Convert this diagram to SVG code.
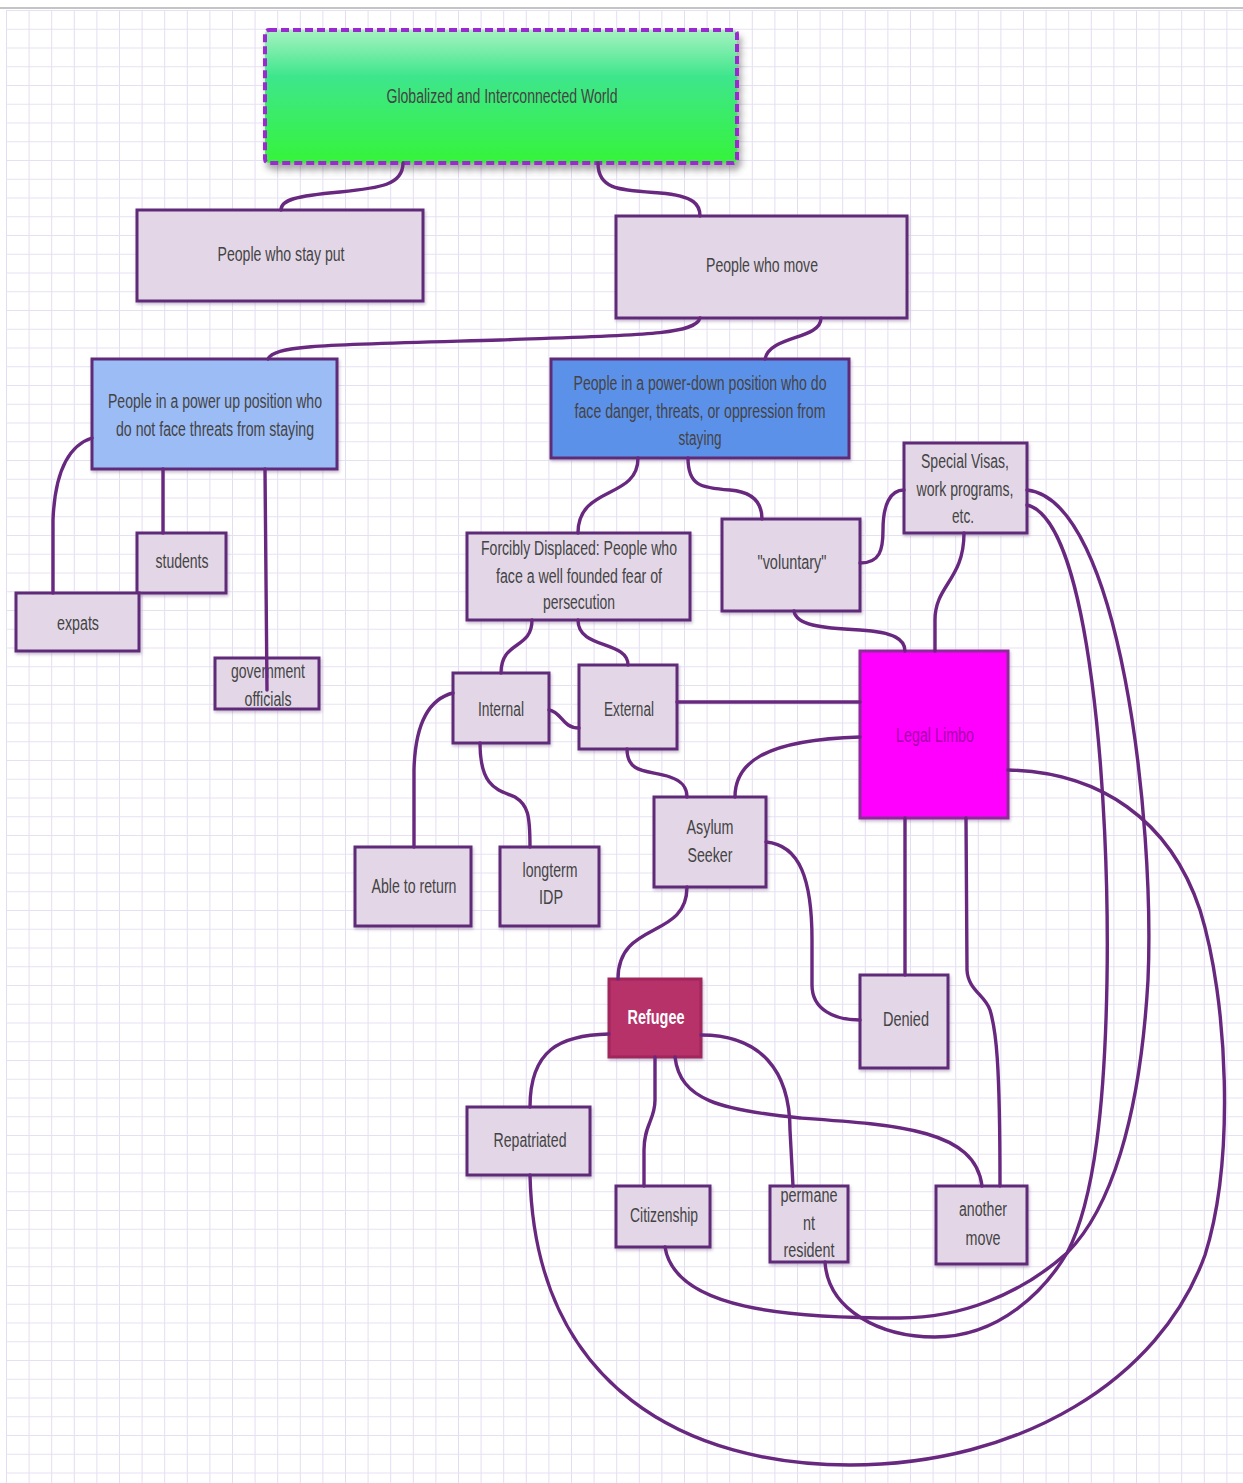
<svg xmlns="http://www.w3.org/2000/svg" width="1243" height="1483" viewBox="0 0 1243 1483">
<defs>
<pattern id="gv" x="6" y="0" width="22.6" height="1483" patternUnits="userSpaceOnUse"><rect x="0" y="0" width="1" height="1483" fill="#e3ddf1"/></pattern>
<pattern id="gh" x="0" y="10" width="1243" height="18.75" patternUnits="userSpaceOnUse"><rect x="0" y="0" width="1243" height="1" fill="#e6e1f2"/></pattern>
<linearGradient id="green" x1="0" y1="0" x2="0" y2="1">
<stop offset="0" stop-color="#a6f2c0"/>
<stop offset="0.35" stop-color="#3ee68c"/>
<stop offset="1" stop-color="#35f43a"/>
</linearGradient>
<filter id="sh" x="-10%" y="-10%" width="130%" height="140%">
<feDropShadow dx="3" dy="6" stdDeviation="3" flood-color="#444" flood-opacity="0.45"/>
</filter>
<filter id="sh2" x="-10%" y="-10%" width="130%" height="130%">
<feDropShadow dx="1" dy="2" stdDeviation="1.5" flood-color="#8a6a9a" flood-opacity="0.45"/>
</filter>
</defs>
<style>
.n{fill:#e3d7e7;stroke:#5f2a78;stroke-width:3;filter:url(#sh2)}
.t{font-family:"Liberation Sans",Arial,sans-serif;font-size:20px;fill:#444444;text-anchor:middle;dominant-baseline:central}
.c{fill:none;stroke:#68287f;stroke-width:3.4;stroke-linecap:round}
</style>
<rect x="0" y="0" width="1243" height="1483" fill="#ffffff"/>
<rect x="6" y="10" width="1237" height="1473" fill="url(#gv)"/>
<rect x="6" y="10" width="1237" height="1473" fill="url(#gh)"/>
<rect x="0" y="7" width="1243" height="2" fill="#c4c4c4"/>

<g id="node-top">
<rect x="265" y="30" width="472" height="133" rx="4" fill="url(#green)" stroke="#9a2ccf" stroke-width="4" stroke-dasharray="8 4" filter="url(#sh)"/>
<text class="t" x="502" y="96" textLength="231" lengthAdjust="spacingAndGlyphs">Globalized and Interconnected World</text>
</g>
<g id="node-stay">
<rect class="n" x="137" y="210" width="286" height="91"/>
<text class="t" x="281" y="254" textLength="127" lengthAdjust="spacingAndGlyphs">People who stay put</text>
</g>
<g id="node-move">
<rect class="n" x="616" y="216" width="291" height="102"/>
<text class="t" x="762" y="265" textLength="112" lengthAdjust="spacingAndGlyphs">People who move</text>
</g>
<g id="node-powerup">
<rect class="n" x="92" y="359" width="245" height="110" style="fill:#9cbcf6"/>
<text class="t" x="215" y="401" textLength="214" lengthAdjust="spacingAndGlyphs">People in a power up position who</text>
<text class="t" x="215" y="429" textLength="198" lengthAdjust="spacingAndGlyphs">do not face threats from staying</text>
</g>
<g id="node-powerdown">
<rect class="n" x="551" y="359" width="298" height="99" style="fill:#5c91ea"/>
<text class="t" x="700" y="383" textLength="253" lengthAdjust="spacingAndGlyphs">People in a power-down position who do</text>
<text class="t" x="700" y="411" textLength="251" lengthAdjust="spacingAndGlyphs">face danger, threats, or oppression from</text>
<text class="t" x="700" y="438" textLength="43" lengthAdjust="spacingAndGlyphs">staying</text>
</g>
<g id="node-students">
<rect class="n" x="137" y="533" width="89" height="60"/>
<text class="t" x="182" y="561" textLength="53" lengthAdjust="spacingAndGlyphs">students</text>
</g>
<g id="node-expats">
<rect class="n" x="16" y="593" width="123" height="58"/>
<text class="t" x="78" y="623" textLength="42" lengthAdjust="spacingAndGlyphs">expats</text>
</g>
<g id="node-government">
<rect class="n" x="215" y="658" width="104" height="51"/>
<text class="t" x="268" y="671" textLength="74" lengthAdjust="spacingAndGlyphs">government</text>
<text class="t" x="268" y="699" textLength="47" lengthAdjust="spacingAndGlyphs">officials</text>
</g>
<g id="node-forcibly">
<rect class="n" x="467" y="533" width="223" height="87"/>
<text class="t" x="579" y="548" textLength="196" lengthAdjust="spacingAndGlyphs">Forcibly Displaced: People who</text>
<text class="t" x="579" y="576" textLength="166" lengthAdjust="spacingAndGlyphs">face a well founded fear of</text>
<text class="t" x="579" y="602" textLength="72" lengthAdjust="spacingAndGlyphs">persecution</text>
</g>
<g id="node-voluntary">
<rect class="n" x="722" y="519" width="138" height="92"/>
<text class="t" x="792" y="562" textLength="69" lengthAdjust="spacingAndGlyphs">"voluntary"</text>
</g>
<g id="node-visas">
<rect class="n" x="904" y="443" width="123" height="90"/>
<text class="t" x="965" y="461" textLength="88" lengthAdjust="spacingAndGlyphs">Special Visas,</text>
<text class="t" x="965" y="489" textLength="97" lengthAdjust="spacingAndGlyphs">work programs,</text>
<text class="t" x="963" y="516" textLength="22" lengthAdjust="spacingAndGlyphs">etc.</text>
</g>
<g id="node-internal">
<rect class="n" x="453" y="673" width="96" height="70"/>
<text class="t" x="501" y="709" textLength="46" lengthAdjust="spacingAndGlyphs">Internal</text>
</g>
<g id="node-external">
<rect class="n" x="579" y="665" width="98" height="84"/>
<text class="t" x="629" y="709" textLength="50" lengthAdjust="spacingAndGlyphs">External</text>
</g>
<g id="node-limbo">
<rect class="n" x="860" y="651" width="148" height="167" style="fill:#ff00ff;stroke:#8e2a9c"/>
<text class="t" x="935" y="735" textLength="78" lengthAdjust="spacingAndGlyphs" style="fill:#a800ac">Legal Limbo</text>
</g>
<g id="node-able">
<rect class="n" x="355" y="847" width="116" height="79"/>
<text class="t" x="414" y="886" textLength="85" lengthAdjust="spacingAndGlyphs">Able to return</text>
</g>
<g id="node-idp">
<rect class="n" x="500" y="847" width="99" height="79"/>
<text class="t" x="550" y="870" textLength="55" lengthAdjust="spacingAndGlyphs">longterm</text>
<text class="t" x="551" y="897" textLength="24" lengthAdjust="spacingAndGlyphs">IDP</text>
</g>
<g id="node-asylum">
<rect class="n" x="654" y="797" width="112" height="90"/>
<text class="t" x="710" y="827" textLength="47" lengthAdjust="spacingAndGlyphs">Asylum</text>
<text class="t" x="710" y="855" textLength="45" lengthAdjust="spacingAndGlyphs">Seeker</text>
</g>
<g id="node-refugee">
<rect class="n" x="609" y="979" width="92" height="78" style="fill:#b8306b;stroke:#a0285c"/>
<text class="t" x="656" y="1017" textLength="57" lengthAdjust="spacingAndGlyphs" style="fill:#ffffff;font-weight:bold">Refugee</text>
</g>
<g id="node-denied">
<rect class="n" x="860" y="975" width="88" height="93"/>
<text class="t" x="906" y="1019" textLength="46" lengthAdjust="spacingAndGlyphs">Denied</text>
</g>
<g id="node-repatriated">
<rect class="n" x="467" y="1107" width="123" height="68"/>
<text class="t" x="530" y="1140" textLength="73" lengthAdjust="spacingAndGlyphs">Repatriated</text>
</g>
<g id="node-citizenship">
<rect class="n" x="616" y="1186" width="94" height="61"/>
<text class="t" x="664" y="1215" textLength="68" lengthAdjust="spacingAndGlyphs">Citizenship</text>
</g>
<g id="node-resident">
<rect class="n" x="770" y="1186" width="78" height="76"/>
<text class="t" x="809" y="1195" textLength="57" lengthAdjust="spacingAndGlyphs">permane</text>
<text class="t" x="809" y="1223" textLength="12" lengthAdjust="spacingAndGlyphs">nt</text>
<text class="t" x="809" y="1250" textLength="51" lengthAdjust="spacingAndGlyphs">resident</text>
</g>
<g id="node-another">
<rect class="n" x="936" y="1186" width="91" height="78"/>
<text class="t" x="983" y="1209" textLength="48" lengthAdjust="spacingAndGlyphs">another</text>
<text class="t" x="983" y="1238" textLength="35" lengthAdjust="spacingAndGlyphs">move</text>
</g>

<g id="connectors">
<path class="c" d="M403,163 C403,185 380,188 340,192 C295,196 281,200 281,210"/>
<path class="c" d="M598,163 C598,190 620,190 660,193 C695,196 700,205 700,216"/>
<path class="c" d="M700,318 C695,335 640,335 500,340 C320,345 275,345 268,359"/>
<path class="c" d="M821,318 C821,340 770,335 765,359"/>
<path class="c" d="M92,438 C70,445 55,470 53,520 L53,593"/>
<path class="c" d="M163,469 L163,533"/>
<path class="c" d="M265,469 L267,690"/>
<path class="c" d="M638,458 C638,500 578,485 578,533"/>
<path class="c" d="M688,458 C688,485 700,488 730,490 C755,492 762,505 762,519"/>
<path class="c" d="M860,563 C880,563 883,550 883,530 C883,505 890,490 904,490"/>
<path class="c" d="M794,611 C796,625 820,628 860,630 C895,632 905,640 905,651"/>
<path class="c" d="M964,533 C964,580 935,585 935,620 L935,651"/>
<path class="c" d="M532,620 C532,650 501,640 501,673"/>
<path class="c" d="M578,620 C578,650 628,640 628,665"/>
<path class="c" d="M549,710 C562,712 562,728 579,728"/>
<path class="c" d="M677,702 L860,702"/>
<path class="c" d="M453,693 C425,700 415,730 414,770 L414,847"/>
<path class="c" d="M480,743 C480,790 500,790 515,797 C528,805 530,815 530,847"/>
<path class="c" d="M627,749 C627,775 650,770 670,777 C685,782 687,790 687,797"/>
<path class="c" d="M735,797 C735,765 760,740 860,737"/>
<path class="c" d="M766,842 C800,845 812,880 812,940 L812,985 C812,1010 835,1020 860,1020"/>
<path class="c" d="M905,818 L905,975"/>
<path class="c" d="M966,818 L967,970 C968,990 985,995 990,1010 C996,1030 1000,1060 1000,1186"/>
<path class="c" d="M687,887 C687,940 618,920 618,979"/>
<path class="c" d="M609,1034 C560,1035 530,1050 530,1107"/>
<path class="c" d="M655,1057 L655,1100 C655,1120 644,1125 644,1150 L644,1186"/>
<path class="c" d="M701,1035 C760,1035 790,1070 790,1130 L793,1186"/>
<path class="c" d="M675,1057 C680,1100 720,1110 800,1118 C900,1125 975,1130 982,1186"/>
<path class="c" d="M665,1247 C675,1310 790,1318 900,1318 C960,1318 1020,1295 1067,1253 C1110,1210 1140,1120 1148,980 C1155,820 1120,500 1027,490"/>
<path class="c" d="M825,1262 C828,1310 880,1337 935,1337 C1000,1337 1045,1290 1067,1253 C1095,1200 1105,1100 1107,980 C1110,800 1090,520 1027,505"/>
<path class="c" d="M530,1175 C535,1390 690,1465 850,1465 C1020,1465 1160,1380 1205,1255 C1235,1160 1228,1000 1200,910 C1170,820 1100,772 1008,770"/>
</g>
</svg>
